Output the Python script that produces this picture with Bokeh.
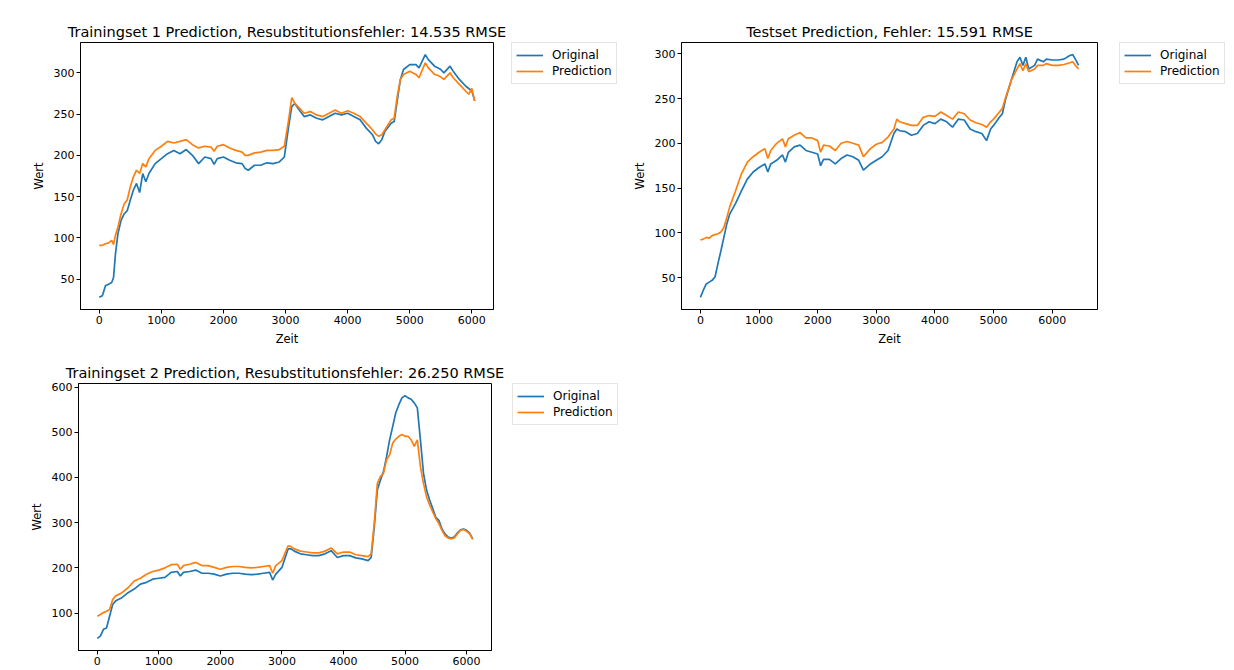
from bokeh.plotting import figure
from bokeh.models import Legend, LegendItem, SingleIntervalTicker, DataRange1d, Range1d
from bokeh.layouts import column, row
from bokeh.embed import file_html
from bokeh.resources import INLINE

# ---------------- data ----------------
t1 = [0, 50, 100, 150, 200, 230, 260, 300, 350, 400, 450, 500, 550, 600, 650, 700, 750, 800,
      900, 1000, 1100, 1200, 1300, 1400, 1500, 1600, 1700, 1800, 1850, 1900, 2000, 2100, 2200,
      2300, 2350, 2400, 2500, 2600, 2700, 2800, 2900, 2980, 3050, 3100, 3150, 3200, 3300, 3400,
      3500, 3600, 3700, 3800, 3900, 4000, 4100, 4200, 4300, 4400, 4450, 4500, 4550, 4600, 4700,
      4750, 4800, 4850, 4900, 5000, 5100, 5150, 5250, 5300, 5400, 5450, 5500, 5550, 5650, 5700,
      5800, 5900, 5950, 6000, 6047]
orig1 = [28, 30, 42, 44, 46, 52, 80, 105, 121, 129, 133, 146, 158, 166, 155, 178, 168, 178,
         190, 196, 202, 206, 202, 207, 200, 190, 198, 196, 189, 196, 198, 194, 191,
         190, 184, 182, 188, 188, 191, 190, 192, 198, 235, 259, 263, 257, 247, 249,
         245, 243, 247, 251, 249, 251, 247, 243, 233, 225, 217, 214, 219, 229, 239,
         241, 267, 292, 304, 310, 310, 306, 322, 316, 308, 306, 304, 300, 308, 302,
         292, 284, 281, 278, 266]
pred1 = [91, 91, 93, 94, 97, 92, 103, 113, 129, 141, 146, 162, 174, 182, 178, 190, 186, 196,
         206, 211, 217, 215, 217, 219, 213, 209, 211, 210, 205, 211, 213, 209, 206,
         204, 200, 200, 203, 204, 206, 206, 207, 211, 243, 270, 263, 259, 251, 253,
         249, 247, 251, 255, 251, 254, 251, 247, 239, 231, 226, 223, 225, 231, 243,
         245, 272, 292, 298, 302, 298, 294, 312, 306, 298, 297, 295, 292, 300, 294,
         286, 278, 274, 281, 266]

t2 = [0, 50, 100, 150, 200, 250, 300, 350, 400, 450, 500, 600, 700, 800, 900, 1000, 1100, 1150,
      1200, 1300, 1400, 1450, 1500, 1600, 1700, 1800, 1900, 2000, 2050, 2100, 2200, 2300, 2400,
      2500, 2600, 2700, 2780, 2900, 3000, 3100, 3200, 3300, 3350, 3400, 3500, 3600, 3700, 3800,
      3900, 4000, 4100, 4200, 4300, 4400, 4500, 4600, 4700, 4800, 4880, 4950, 5000, 5100, 5150,
      5200, 5300, 5400, 5450, 5500, 5550, 5600, 5700, 5750, 5850, 5900, 6000, 6100, 6200, 6300,
      6350, 6420, 6450]
orig2 = [28, 36, 43, 45, 47, 51, 66, 80, 95, 110, 121, 133, 147, 160, 168, 173, 177, 168,
         177, 181, 187, 179, 190, 196, 198, 192, 190, 188, 175, 182, 182, 177, 183,
         187, 185, 181, 170, 177, 181, 185, 192, 211, 216, 214, 213, 209, 211, 220,
         224, 222, 227, 224, 218, 227, 226, 216, 213, 211, 203, 216, 220, 229, 233,
         248, 270, 291, 296, 287, 296, 283, 287, 294, 291, 294, 293, 293, 294, 298,
         299, 291, 287]
pred2 = [92, 93, 95, 94, 97, 98, 99, 101, 106, 117, 129, 147, 166, 179, 185, 190, 194, 183,
         192, 200, 205, 196, 205, 209, 212, 206, 206, 203, 190, 198, 197, 192, 200,
         202, 200, 198, 185, 194, 199, 201, 207, 216, 227, 224, 222, 220, 220, 229,
         231, 230, 235, 231, 227, 235, 233, 226, 223, 221, 218, 224, 227, 235, 239,
         250, 270, 283, 289, 281, 289, 280, 283, 287, 287, 289, 287, 287, 288, 290,
         291, 285, 283]

t3 = [0, 50, 100, 150, 200, 250, 300, 400, 500, 600, 700, 800, 900, 1000, 1100, 1200, 1300,
      1350, 1400, 1500, 1600, 1700, 1800, 1900, 2000, 2100, 2200, 2300, 2400, 2500, 2600, 2700,
      2800, 2850, 2900, 3000, 3100, 3150, 3200, 3300, 3400, 3500, 3600, 3700, 3800, 3900, 4000,
      4100, 4200, 4300, 4400, 4450, 4500, 4550, 4600, 4650, 4700, 4750, 4800, 4850, 4900, 4950,
      5000, 5050, 5100, 5150, 5200, 5250, 5300, 5350, 5400, 5450, 5500, 5550, 5600, 5650, 5700,
      5750, 5800, 5850, 5900, 5950, 6000, 6050, 6100]
orig3 = [44, 49, 64, 67, 93, 119, 127, 134, 145, 153, 164, 168, 175, 177, 179, 190, 192,
         182, 190, 192, 195, 188, 188, 186, 182, 186, 188, 188, 186, 185, 186, 188,
         190, 173, 186, 201, 242, 242, 237, 231, 229, 227, 227, 231, 238, 223, 227,
         227, 222, 220, 216, 223, 290, 372, 394, 413, 446, 483, 513, 543, 561, 576,
         581, 576, 573, 565, 554, 483, 409, 372, 350, 331, 312, 305, 286, 275, 268,
         266, 268, 277, 284, 286, 283, 277, 264]
pred3 = [93, 97, 101, 104, 108, 130, 138, 145, 156, 171, 177, 186, 192, 195, 200, 207, 208,
         197, 205, 208, 212, 205, 205, 201, 197, 201, 203, 203, 201, 200, 201, 203,
         205, 188, 205, 216, 249, 247, 242, 237, 235, 233, 233, 237, 244, 231, 235,
         235, 229, 227, 225, 231, 298, 387, 402, 409, 439, 450, 476, 485, 491, 495,
         491, 491, 483, 469, 483, 424, 387, 357, 339, 324, 309, 298, 283, 271, 266,
         264, 266, 275, 283, 285, 281, 275, 263]

titles = ["Trainingset 1 Prediction, Resubstitutionsfehler: 14.535 RMSE",
          "Testset Prediction, Fehler: 15.591 RMSE",
          "Trainingset 2 Prediction, Resubstitutionsfehler: 26.250 RMSE"]
series_names = ["Original", "Prediction"]
x_label = "Zeit"
y_label = "Wert"

FONT = "DejaVu Sans"
BLUE = "#1f77b4"
ORANGE = "#ff7f0e"
LW = 1.7


def make(title, t, orig, pred, yint, xlabel, ml, mt, mb, mr, fw, fh):
    p = figure(frame_width=fw, frame_height=fh, output_backend="svg", toolbar_location=None,
               min_border_left=ml, min_border_top=mt, min_border_bottom=mb,
               min_border_right=mr,
               x_range=DataRange1d(range_padding=0.1), y_range=DataRange1d(range_padding=0.1))
    p.title.text = title
    p.title.text_font = FONT
    p.title.text_font_size = "14.5px"
    p.title.text_font_style = "normal"
    p.title.text_color = "#000000"
    p.title.align = "center"
    p.title.standoff = 5

    p.line(t, orig, line_color=BLUE, line_width=LW)
    p.line(t, pred, line_color=ORANGE, line_width=LW)

    p.xgrid.grid_line_color = None
    p.ygrid.grid_line_color = None
    p.outline_line_color = "#000000"
    p.outline_line_width = 1
    p.outline_line_alpha = 1
    p.background_fill_color = "white"
    p.border_fill_color = "white"

    p.xaxis.ticker = SingleIntervalTicker(interval=1000, num_minor_ticks=0)
    p.yaxis.ticker = SingleIntervalTicker(interval=yint, num_minor_ticks=0)
    for ax in (p.xaxis[0], p.yaxis[0]):
        ax.major_tick_in = 0
        ax.major_tick_out = 4
        ax.major_tick_line_color = "#000000"
        ax.minor_tick_line_color = None
        ax.axis_line_color = "#000000"
        ax.major_label_text_font = FONT
        ax.major_label_text_font_size = "11px"
        ax.major_label_text_color = "#000000"
        ax.major_label_standoff = 2
        ax.axis_label_text_font = FONT
        ax.axis_label_text_font_size = "11.5px"
        ax.axis_label_text_font_style = "normal"
        ax.axis_label_text_color = "#000000"
        ax.axis_label_standoff = 5
    p.yaxis.axis_label = y_label
    if xlabel:
        p.xaxis.axis_label = xlabel
    return p


def legend_fig(w, h, dx, top):
    # a small companion figure that only holds the legend, placed right of the plot
    f = figure(frame_width=w - dx, frame_height=h - top, output_backend="svg",
               toolbar_location=None, min_border_left=dx, min_border_top=top,
               min_border_right=0, min_border_bottom=0,
               x_axis_location=None, y_axis_location=None, outline_line_color=None,
               x_range=Range1d(0, 1), y_range=Range1d(0, 1))
    f.xgrid.grid_line_color = None
    f.ygrid.grid_line_color = None
    f.background_fill_color = "white"
    f.border_fill_color = "white"
    # sample lines lie outside the visible range; they only supply the legend glyphs
    r1 = f.line([5, 6], [5, 5], line_color=BLUE, line_width=LW)
    r2 = f.line([5, 6], [6, 6], line_color=ORANGE, line_width=LW)
    legend = Legend(items=[LegendItem(label=series_names[0], renderers=[r1]),
                           LegendItem(label=series_names[1], renderers=[r2])],
                    location="top_left", margin=0, padding=4, spacing=0,
                    glyph_width=27, glyph_height=14, label_height=16, label_standoff=9,
                    label_text_font=FONT, label_text_font_size="12px",
                    label_text_color="#000000",
                    border_line_color="#cccccc", border_line_width=1,
                    background_fill_color="white", background_fill_alpha=0.8)
    f.add_layout(legend, "center")
    return f


# row 1: height 42 + 267 + 41 = 350 ; row 2: 33 + 267 + 20 = 320
p1 = make(titles[0], t1, orig1, pred1, 50, x_label, 80, 42, 41, 14, 413, 267)   # width 507
l1 = legend_fig(113, 350, 4, 42)
p2 = make(titles[1], t2, orig2, pred2, 50, x_label, 61, 42, 41, 2, 416, 267)    # width 479
l2 = legend_fig(135, 350, 20, 42)
p3 = make(titles[2], t3, orig3, pred3, 100, None, 78, 33, 20, 14, 413, 267)     # width 505
l3 = legend_fig(115, 320, 7, 33)

layout = column(row(p1, l1, p2, l2), row(p3, l3))

open("out.html", "w").write(file_html(layout, INLINE))
